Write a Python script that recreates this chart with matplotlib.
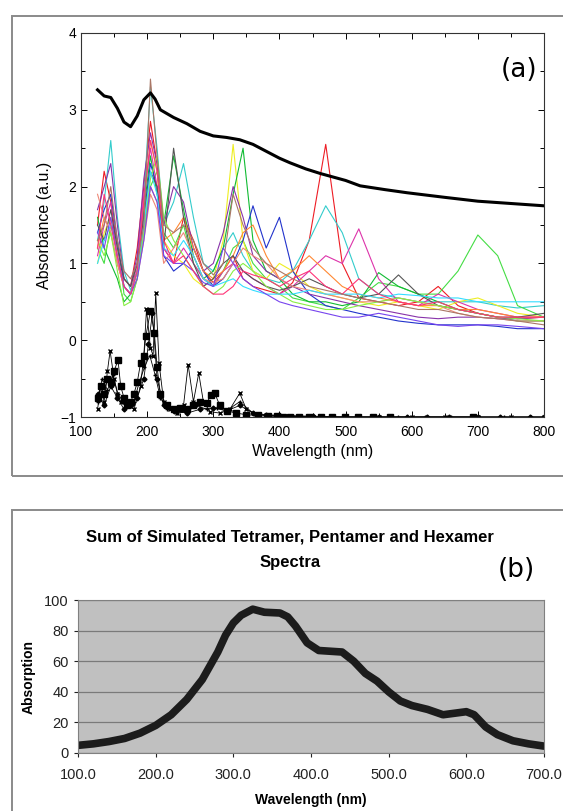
import matplotlib
matplotlib.use("Agg")
import matplotlib.pyplot as plt
from matplotlib.patches import Rectangle
from matplotlib.ticker import MultipleLocator, FormatStrFormatter

#----------------------------------------------------------------
# panel (a) : measured spectrum (thick black)
exp_wl = [125, 135, 145, 155, 165, 175, 185, 195, 205, 212, 220, 240, 260, 280, 300, 320, 340,
          360, 380, 400, 416, 440, 462, 500, 522, 560, 593, 650, 700, 750, 800]
exp_abs = [3.26, 3.18, 3.16, 3.02, 2.84, 2.78, 2.92, 3.13, 3.22, 3.14, 3.0, 2.9, 2.82, 2.72, 2.66,
           2.64, 2.61, 2.55, 2.46, 2.37, 2.31, 2.23, 2.17, 2.08, 2.01, 1.96, 1.92, 1.86, 1.81, 1.78, 1.75]

# panel (a) : simulated spectra (coloured), common wavelength grid
sim_wl = [125, 135, 145, 155, 165, 175, 185, 195, 205, 215, 225, 240, 255, 270, 285, 300, 315, 330,
          345, 360, 380, 400, 420, 445, 470, 495, 520, 550, 580, 610, 640, 670, 700, 730, 760, 800]

sim_red = [1.5, 2.2, 1.8, 1.2, 0.8, 0.7, 1.2, 2.0, 2.85, 2.3, 1.2, 1.0, 1.6, 1.3, 0.9, 0.75, 0.9, 1.1,
           0.8, 0.7, 0.65, 0.6, 0.75, 1.3, 2.55, 1.0, 0.55, 0.5, 0.45, 0.5, 0.7, 0.45, 0.35, 0.3, 0.28, 0.3]
sim_cyan = [1.3, 1.8, 2.6, 1.6, 0.9, 0.65, 0.9, 1.8, 3.3, 2.5, 1.5, 1.8, 2.3, 1.6, 1.0, 0.9, 1.2, 1.4,
            1.1, 0.9, 0.8, 0.75, 0.9, 1.3, 1.75, 1.4, 0.8, 0.6, 0.55, 0.5, 0.5, 0.5, 0.5, 0.45, 0.42, 0.45]
sim_green = [1.2, 1.0, 1.5, 1.3, 0.6, 0.5, 0.8, 1.5, 2.0, 2.2, 1.4, 1.2, 1.5, 1.0, 0.8, 0.7, 0.9, 1.2,
             1.3, 1.0, 0.8, 0.7, 0.55, 0.5, 0.45, 0.4, 0.55, 0.75, 0.7, 0.6, 0.6, 0.9, 1.37, 1.1, 0.45, 0.3]
sim_yellow = [1.0, 1.4, 1.6, 1.2, 0.8, 0.7, 1.0, 1.8, 2.6, 2.2, 1.3, 1.1, 1.0, 0.8, 0.7, 0.8, 1.3, 2.55,
              1.3, 0.9, 0.8, 1.0, 0.9, 0.7, 0.6, 0.55, 0.5, 0.45, 0.5, 0.45, 0.4, 0.5, 0.55, 0.45, 0.35, 0.3]
sim_green2 = [1.6, 1.2, 1.0, 0.8, 0.5, 0.6, 0.9, 1.7, 2.4, 1.9, 1.5, 2.4, 1.7, 1.1, 0.8, 0.9, 1.2, 1.9,
              2.5, 1.3, 0.9, 0.8, 0.6, 0.5, 0.5, 0.45, 0.5, 0.88, 0.7, 0.6, 0.5, 0.4, 0.35, 0.3, 0.25, 0.25]
sim_blue = [1.4, 1.7, 1.9, 1.3, 0.7, 0.6, 0.9, 1.6, 2.3, 2.0, 1.1, 0.9, 1.0, 1.2, 0.9, 0.7, 0.8, 1.0,
            1.3, 1.75, 1.2, 1.6, 0.9, 0.6, 0.45, 0.4, 0.35, 0.3, 0.25, 0.22, 0.2, 0.2, 0.2, 0.18, 0.15, 0.15]
sim_magenta = [1.1, 1.5, 1.8, 1.0, 0.7, 0.6, 1.0, 1.9, 2.5, 2.0, 1.2, 1.0, 1.2, 1.0, 0.8, 0.7, 0.9, 1.0,
               0.9, 0.8, 0.7, 0.6, 0.7, 0.9, 1.1, 1.0, 1.45, 0.8, 0.5, 0.45, 0.6, 0.5, 0.4, 0.35, 0.3, 0.3]
sim_purple = [1.7, 2.0, 2.3, 1.5, 0.8, 0.7, 1.1, 2.1, 2.7, 2.3, 1.5, 2.0, 1.8, 1.2, 0.9, 1.0, 1.4, 2.0,
              1.6, 1.1, 0.9, 0.8, 0.7, 0.6, 0.55, 0.5, 0.45, 0.4, 0.35, 0.3, 0.28, 0.3, 0.3, 0.28, 0.28, 0.3]
sim_orange = [1.2, 1.6, 1.4, 1.0, 0.7, 0.6, 0.9, 1.4, 2.0, 1.8, 1.3, 1.4, 1.6, 1.2, 0.9, 0.8, 0.9, 1.1,
              1.4, 1.5, 1.1, 0.8, 0.9, 1.1, 0.9, 0.7, 0.6, 0.55, 0.5, 0.45, 0.45, 0.4, 0.4, 0.35, 0.3, 0.3]
sim_gray = [1.5, 1.3, 1.7, 1.2, 0.8, 0.7, 1.0, 1.6, 2.2, 2.0, 1.2, 2.5, 1.6, 1.0, 0.7, 0.8, 1.0, 1.1,
            0.9, 0.8, 0.7, 0.65, 0.7, 0.8, 0.7, 0.6, 0.55, 0.6, 0.85, 0.6, 0.45, 0.4, 0.35, 0.3, 0.3, 0.35]
sim_salmon = [1.9, 1.6, 1.4, 1.0, 0.7, 0.6, 0.8, 1.3, 1.9, 1.7, 1.0, 1.2, 1.4, 1.1, 0.8, 0.75, 0.8, 1.0,
              1.2, 1.1, 1.0, 0.8, 0.7, 0.65, 0.6, 0.55, 0.5, 0.5, 0.55, 0.5, 0.45, 0.35, 0.3, 0.28, 0.25, 0.25]
sim_lime = [1.3, 1.1, 1.4, 0.9, 0.45, 0.5, 0.8, 1.4, 2.1, 2.4, 1.6, 1.3, 1.1, 0.9, 0.7, 0.6, 0.7, 0.9,
            1.0, 0.9, 0.7, 0.6, 0.5, 0.45, 0.4, 0.4, 0.45, 0.5, 0.55, 0.5, 0.45, 0.4, 0.35, 0.3, 0.28, 0.25]
sim_skyblue = [1.0, 1.3, 1.5, 1.1, 0.7, 0.6, 0.9, 1.5, 2.2, 1.9, 1.2, 1.1, 1.3, 1.1, 0.8, 0.7, 0.75, 0.8,
               0.7, 0.65, 0.6, 0.6, 0.6, 0.65, 0.6, 0.6, 0.6, 0.55, 0.6, 0.58, 0.55, 0.55, 0.5, 0.5, 0.5, 0.5]
sim_violet = [1.4, 1.2, 1.6, 1.1, 0.7, 0.6, 0.8, 1.3, 2.0, 1.8, 1.1, 1.0, 1.0, 0.9, 0.75, 0.7, 1.2, 1.0,
              0.8, 0.7, 0.6, 0.5, 0.45, 0.4, 0.35, 0.3, 0.3, 0.35, 0.3, 0.25, 0.2, 0.18, 0.2, 0.2, 0.18, 0.15]
sim_pink = [1.2, 1.9, 1.5, 1.1, 0.7, 0.6, 0.9, 1.8, 2.6, 2.2, 1.3, 1.0, 1.1, 0.9, 0.7, 0.6, 0.6, 0.7,
            0.9, 0.85, 0.8, 0.7, 0.8, 0.9, 0.7, 0.6, 0.8, 0.6, 0.5, 0.45, 0.5, 0.4, 0.35, 0.3, 0.3, 0.3]
sim_brown = [1.3, 1.5, 2.0, 1.3, 0.9, 0.8, 1.0, 1.5, 3.4, 2.4, 1.5, 1.4, 1.5, 1.3, 1.0, 0.85, 1.0, 1.9,
             1.5, 1.2, 1.0, 0.9, 0.8, 0.7, 0.65, 0.6, 0.55, 0.5, 0.45, 0.4, 0.4, 0.35, 0.3, 0.28, 0.25, 0.2]

sim_series = [
	(sim_red, "#ee1c24"), (sim_cyan, "#33cccc"), (sim_green, "#44dd44"), (sim_yellow, "#eeee22"),
	(sim_green2, "#11bb33"), (sim_blue, "#2233cc"), (sim_magenta, "#dd33aa"), (sim_purple, "#8833aa"),
	(sim_orange, "#ff8833"), (sim_gray, "#555555"), (sim_salmon, "#ee8877"), (sim_lime, "#88ee44"),
	(sim_skyblue, "#33ddff"), (sim_violet, "#7744ee"), (sim_pink, "#ff3377"), (sim_brown, "#aa7766"),
]

# panel (a) : stick-like black marker series at the bottom
mk_sq_wl = [125, 130, 135, 140, 145, 150, 156, 160, 165, 170, 175, 180, 185, 190, 195, 198, 205, 211,
            215, 220, 230, 240, 250, 260, 270, 280, 290, 296, 302, 310, 320, 335, 350, 367, 383, 396,
            406, 416, 430, 445, 463, 479, 499, 519, 542, 567, 693]
mk_sq_abs = [-0.75, -0.6, -0.7, -0.5, -0.55, -0.4, -0.26, -0.6, -0.75, -0.85, -0.8, -0.7, -0.55, -0.3,
             -0.2, 0.05, 0.38, 0.09, -0.35, -0.7, -0.85, -0.9, -0.88, -0.9, -0.85, -0.8, -0.82, -0.72,
             -0.69, -0.85, -0.92, -0.95, -0.97, -0.98, -0.99, -0.99, -1.0, -1.0, -1.0, -1.0, -1.0, -1.0,
             -1.0, -1.0, -1.0, -1.0, -1.0]
mk_x_wl = [125, 130, 135, 140, 144, 150, 155, 160, 170, 180, 190, 195, 199, 205, 209, 213, 218, 225,
           235, 245, 255, 262, 270, 278, 285, 295, 310, 325, 340, 350, 365, 380, 400, 450, 500, 550,
           600, 650, 700, 750, 800]
mk_x_abs = [-0.9, -0.6, -0.8, -0.4, -0.14, -0.5, -0.7, -0.8, -0.85, -0.9, -0.6, -0.2, 0.40, -0.1, -0.2,
            0.61, -0.3, -0.8, -0.9, -0.95, -0.85, -0.32, -0.8, -0.43, -0.8, -0.93, -0.95, -0.9, -0.69,
            -0.9, -0.96, -0.98, -0.99, -1.0, -1.0, -1.0, -1.0, -1.0, -1.0, -1.0, -1.0]
mk_d_wl = [125, 135, 145, 155, 165, 175, 185, 195, 202, 208, 215, 225, 240, 260, 280, 300, 320, 340,
           360, 380, 400, 450, 500, 550, 593, 623, 656, 700, 734, 779, 800]
mk_d_abs = [-0.7, -0.85, -0.6, -0.75, -0.9, -0.85, -0.75, -0.5, -0.05, 0.35, -0.5, -0.85, -0.92, -0.95,
            -0.9, -0.88, -0.92, -0.85, -0.95, -0.97, -0.98, -0.99, -1.0, -1.0, -1.0, -1.0, -1.0, -1.0,
            -1.0, -1.0, -1.0]
mk_p_wl = [125, 132, 140, 148, 156, 164, 172, 180, 188, 196, 204, 212, 220, 230, 245, 260, 275, 290,
           305, 320, 340, 360, 380, 420, 460, 500, 540, 580, 620, 660, 700, 740, 780, 800]
mk_p_abs = [-0.8, -0.5, -0.65, -0.45, -0.7, -0.8, -0.85, -0.8, -0.55, -0.35, -0.2, -0.45, -0.75, -0.9,
            -0.95, -0.93, -0.85, -0.9, -0.88, -0.92, -0.8, -0.95, -0.98, -0.99, -1.0, -1.0, -1.0, -1.0,
            -1.0, -1.0, -1.0, -1.0, -1.0, -1.0]

#----------------------------------------------------------------
# panel (b) : summed simulated spectrum
sum_wl = [100, 120, 140, 160, 180, 200, 220, 240, 260, 280, 290, 300, 310, 325, 340, 360, 370, 380,
          395, 410, 425, 440, 455, 470, 485, 500, 515, 530, 550, 570, 585, 600, 610, 625, 640, 660,
          680, 700]
sum_abs = [5, 6, 7.5, 9.5, 13, 18, 25, 35, 48, 66, 77, 85, 90, 94, 92, 91.5, 89, 83, 72, 67, 66.5,
           66, 60, 52, 47, 40, 34, 31, 28.5, 25, 26, 27, 25, 17, 12, 8, 6, 4.5]

#----------------------------------------------------------------
fig = plt.figure(figsize=(5.63, 8.11), dpi=100)
W, H = 563.0, 811.0

def px_rect(x0, y0, x1, y1) :
	return [x0 / W, 1 - y1 / H, (x1 - x0) / W, (y1 - y0) / H]

# gray frames around the two panels
fig.patches.append(Rectangle((11.5 / W, 1 - 475.5 / H), 560 / W, 460 / H, transform=fig.transFigure,
                             fill=False, edgecolor="#8a8a8a", lw=1.4))
fig.patches.append(Rectangle((11.5 / W, -0.05), 560 / W, 1 - 509.5 / H + 0.05, transform=fig.transFigure,
                             fill=False, edgecolor="#8a8a8a", lw=1.4))

#--- panel (a) ---
ax1 = fig.add_axes(px_rect(81, 33, 544, 417))
for vals, col in sim_series :
	ax1.plot(sim_wl, vals, color=col, lw=0.8)
ax1.plot(exp_wl, exp_abs, color="black", lw=2.2)

ax1.plot(mk_sq_wl, mk_sq_abs, color="black", lw=0.6, marker="s", ms=4)
ax1.plot(mk_x_wl, mk_x_abs, color="black", lw=0.6, marker="x", ms=3)
ax1.plot(mk_d_wl, mk_d_abs, color="black", lw=0.6, marker="D", ms=2.5)
ax1.plot(mk_p_wl, mk_p_abs, color="black", lw=0.6, marker="+", ms=3)

ax1.set_xlim(100, 800)
ax1.set_ylim(-1, 4)
ax1.xaxis.set_major_locator(MultipleLocator(100))
ax1.xaxis.set_minor_locator(MultipleLocator(50))
ax1.yaxis.set_major_locator(MultipleLocator(1))
ax1.yaxis.set_minor_locator(MultipleLocator(0.5))
ax1.tick_params(which="both", direction="in", top=True, right=True, labelsize=10, width=0.7)
ax1.tick_params(which="major", length=4)
ax1.tick_params(which="minor", length=3)
ax1.tick_params(axis="x", pad=6)
for sp in ax1.spines.values() :
	sp.set_linewidth(0.8)
	sp.set_color("#333333")
ax1.set_xlabel("Wavelength (nm)", fontsize=11.5, labelpad=3)
ax1.set_ylabel("Absorbance (a.u.)", fontsize=11.5, labelpad=6)
ax1.text(0.986, 0.904, "(a)", transform=ax1.transAxes, ha="right", va="center", fontsize=19)

#--- panel (b) ---
ax2 = fig.add_axes(px_rect(78, 600, 544, 753))
ax2.set_facecolor("#c0c0c0")
ax2.plot(sum_wl, sum_abs, color="#1c1c1c", lw=5.5, solid_capstyle="round")
ax2.set_xlim(100, 700)
ax2.set_ylim(0, 100)
ax2.xaxis.set_major_locator(MultipleLocator(100))
ax2.xaxis.set_major_formatter(FormatStrFormatter("%.1f"))
ax2.yaxis.set_major_locator(MultipleLocator(20))
ax2.grid(axis="y", color="#7a7a7a", lw=0.9)
ax2.set_axisbelow(True)
ax2.tick_params(labelsize=10.5, length=3, colors="#222222")
ax2.tick_params(axis="x", pad=8)
for sp in ax2.spines.values() :
	sp.set_color("#808080")
ax2.set_xlabel("Wavelength (nm)", fontsize=10, fontweight="bold", labelpad=8)
ax2.set_ylabel("Absorption", fontsize=10, fontweight="bold", labelpad=6)

fig.text(290 / W, 1 - 537 / H, "Sum of Simulated Tetramer, Pentamer and Hexamer",
         ha="center", va="center", fontsize=12, fontweight="bold", family="Liberation Sans")
fig.text(290 / W, 1 - 562 / H, "Spectra",
         ha="center", va="center", fontsize=12, fontweight="bold", family="Liberation Sans")
fig.text(516 / W, 1 - 570 / H, "(b)", ha="center", va="center", fontsize=19)

for ax in (ax1, ax2) :
	for lbl in ax.get_xticklabels() + ax.get_yticklabels() :
		lbl.set_family("Liberation Sans")
	ax.xaxis.label.set_family("Liberation Sans")
	ax.yaxis.label.set_family("Liberation Sans")

fig.savefig("out.png", dpi=100)
